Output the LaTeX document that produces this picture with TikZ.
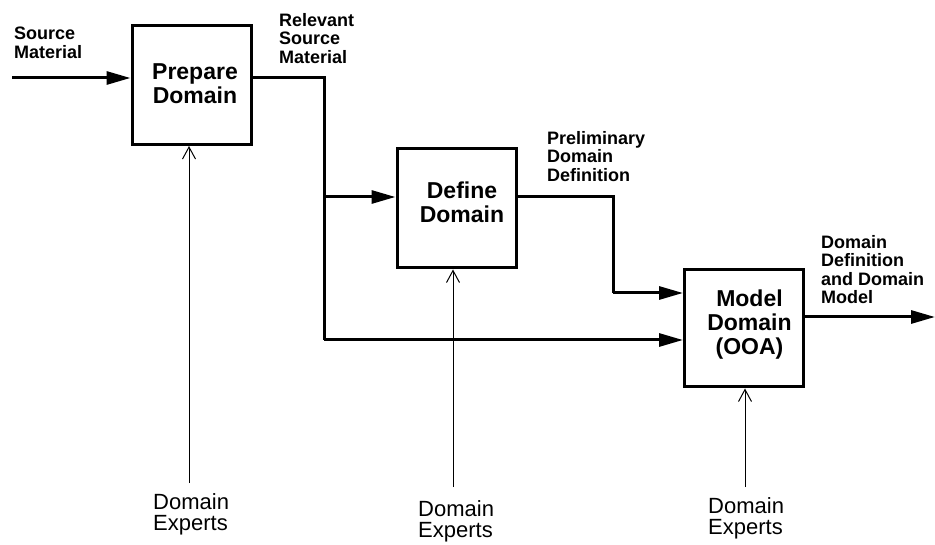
\documentclass[tikz,border=0pt]{standalone}
\usepackage{fontspec}
\setmainfont{Liberation Sans}
\usetikzlibrary{arrows.meta}
\begin{document}
\begin{tikzpicture}[x=1pt,y=-1pt,
  procbox/.style={draw,line width=3pt,minimum width=119pt,minimum height=119pt,inner sep=0pt},
  boxtext/.style={font=\fontsize{23}{24}\selectfont\bfseries,align=center,inner sep=0pt},
  flowlabel/.style={font=\fontsize{18}{18.5}\selectfont\bfseries,align=left,inner sep=0pt,anchor=north west},
  expert/.style={font=\fontsize{22}{21.5}\selectfont,align=left,inner sep=0pt,anchor=north west},
  flowline/.style={line width=3pt},
  flow/.style={line width=3pt,-{Triangle[length=24pt,width=13pt]}},
  control/.style={line width=1pt,-{Straight Barb[length=12pt,width=13pt]}}
]
\useasboundingbox (0,0) rectangle (935,545);

% boxes
\node[procbox] (P) at (191.5,85) {};
\node[boxtext] (Pt) at (195,84) {Prepare\\Domain};
\node[procbox] (D) at (456.5,208.5) {};
\node[boxtext] (Dt) at (462,202.5) {Define\\Domain};
\node[procbox,minimum height=117pt] (M) at (744,328.5) {};
\node[boxtext] (Mt) at (749.5,325) {Model\\Domain\\(OOA)};

% flow labels
\node[flowlabel] (lsrc) at (14,27) {Source\\Material};
\node[flowlabel] (lrel) at (279,13) {Relevant\\Source\\Material};
\node[flowlabel] (lpre) at (547,131) {Preliminary\\Domain\\Definition};
\node[flowlabel] (lout) at (821,235) {Domain\\Definition\\and Domain\\Model};

% expert labels
\node[expert] (E1) at (153,493) {Domain\\Experts};
\node[expert] (E2) at (418,500) {Domain\\Experts};
\node[expert] (E3) at (708,497) {Domain\\Experts};

% coordinates
\coordinate (src) at (12,78);
\coordinate (j1) at (324,78);
\coordinate (j2) at (324,197);
\coordinate (j3) at (324,340);
\coordinate (k1) at (613,197);
\coordinate (k2) at (613,293);
\coordinate (out) at (935,317);
\coordinate (e1) at (189,483);
\coordinate (e2) at (453,487);
\coordinate (e3) at (745,487);

% flows
\draw[flow] (src) -- (src -| P.west);
\draw[flowline] (P.east |- j1) -- (j1) -- (j3);
\draw[flow] (j3) -- (j3 -| M.west);
\draw[flow] (j2) -- (j2 -| D.west);
\draw[flowline] (D.east |- k1) -- (k1) -- (k2);
\draw[flow] (k2) -- (k2 -| M.west);
\draw[flow] (M.east |- out) -- (out);

% controls
\draw[control] (e1) -- (e1 |- P.south);
\draw[control] (e2) -- (e2 |- D.south);
\draw[control] (e3) -- (e3 |- M.south);
\end{tikzpicture}
\end{document}
